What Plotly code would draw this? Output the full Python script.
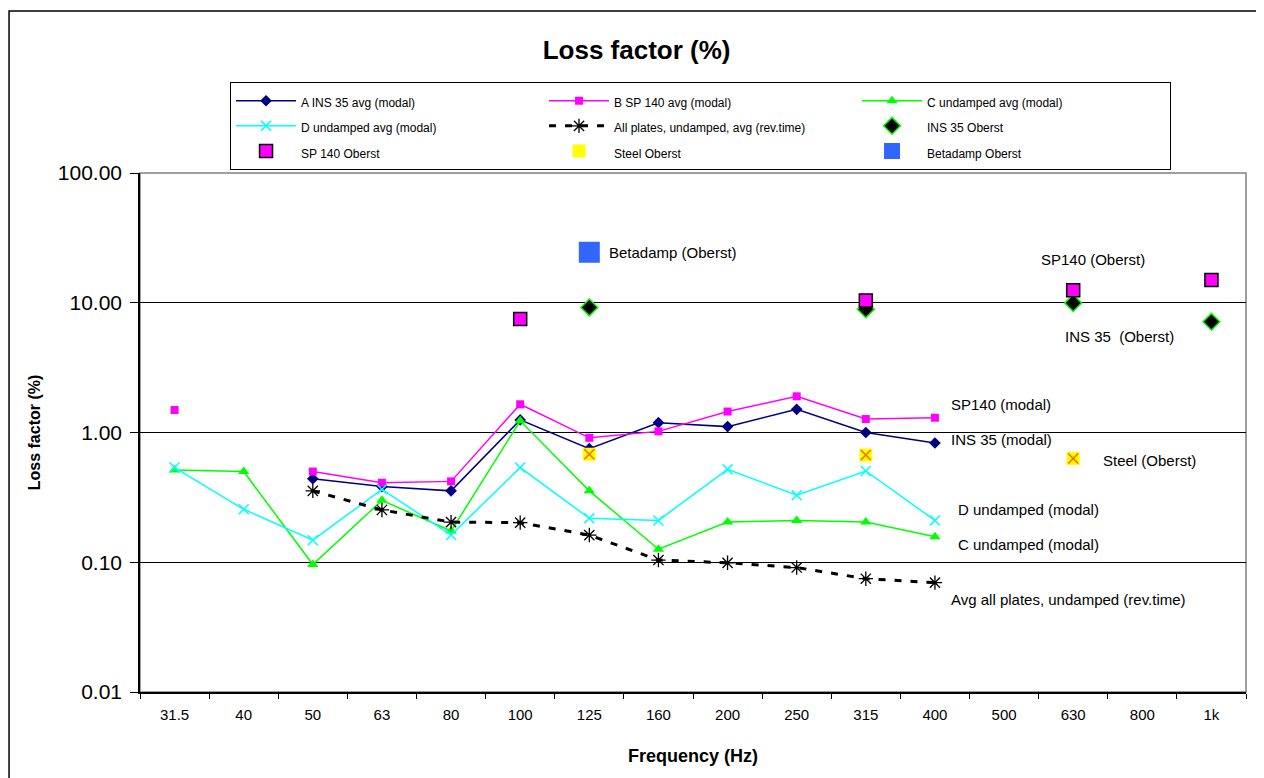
import math
import plotly.graph_objects as go

freqs = ["31.5", "40", "50", "63", "80", "100", "125", "160", "200", "250", "315", "400", "500", "630", "800", "1k"]

ins35_modal = [None, None, 0.44, 0.383, 0.355, 1.25, 0.75, 1.19, 1.11, 1.51, 1.00, 0.83, None, None, None, None]
sp140_modal = [1.49, None, 0.50, 0.41, 0.42, 1.65, 0.91, 1.02, 1.45, 1.90, 1.27, 1.30, None, None, None, None]
c_undamped = [0.515, 0.50, 0.096, 0.30, 0.174, 1.23, 0.355, 0.126, 0.204, 0.21, 0.204, 0.157, None, None, None, None]
d_undamped = [0.537, 0.256, 0.148, 0.365, 0.162, 0.537, 0.218, 0.21, 0.52, 0.328, 0.505, 0.21, None, None, None, None]
all_revtime = [None, None, 0.355, 0.253, 0.204, 0.202, 0.162, 0.104, 0.099, 0.091, 0.0747, 0.0696, None, None, None, None]
ins35_oberst = [None, None, None, None, None, None, 9.2, None, None, None, 8.9, None, None, 9.95, None, 7.13]
sp140_oberst = [None, None, None, None, None, 7.5, None, None, None, None, 10.4, None, None, 12.5, None, 15.0]
steel_oberst = [None, None, None, None, None, None, 0.68, None, None, None, 0.67, None, None, 0.63, None, None]
betadamp_oberst = [None, None, None, None, None, None, 24.5, None, None, None, None, None, None, None, None, None]

FONT = "Liberation Sans, Arial, sans-serif"


def lg(name):
    return "<span style='font-size:12px'>" + name + "</span>"


fig = go.Figure()

fig.add_trace(go.Scatter(x=freqs, y=ins35_modal, name=lg("A INS 35 avg (modal)"), mode="lines+markers",
                         line=dict(color="#000080", width=1.5),
                         marker=dict(symbol="diamond", size=9, color="#000080")))
fig.add_trace(go.Scatter(x=freqs, y=sp140_modal, name=lg("B SP 140 avg (modal)"), mode="lines+markers",
                         line=dict(color="#FF00FF", width=1.5),
                         marker=dict(symbol="square", size=8, color="#FF00FF")))
fig.add_trace(go.Scatter(x=freqs, y=c_undamped, name=lg("C undamped avg (modal)"), mode="lines+markers",
                         line=dict(color="#00FF00", width=1.5),
                         marker=dict(symbol="triangle-up", size=10, color="#00FF00")))
fig.add_trace(go.Scatter(x=freqs, y=d_undamped, name=lg("D undamped avg (modal)"), mode="lines+markers",
                         line=dict(color="#00FFFF", width=1.5),
                         marker=dict(symbol="x-thin-open", size=10, color="#00FFFF",
                                     line=dict(color="#00FFFF", width=1.5))))
fig.add_trace(go.Scatter(x=freqs, y=all_revtime, name=lg("All plates, undamped, avg (rev.time)"), mode="lines+markers",
                         line=dict(color="black", width=3, dash="7px,9px"),
                         marker=dict(symbol="asterisk-open", size=12, color="black",
                                     line=dict(color="black", width=1.3))))
fig.add_trace(go.Scatter(x=freqs, y=ins35_oberst, name=lg("INS 35 Oberst"), mode="markers",
                         marker=dict(symbol="diamond", size=13, color="black",
                                     line=dict(color="#00FF00", width=1.5))))
fig.add_trace(go.Scatter(x=freqs, y=sp140_oberst, name=lg("SP 140 Oberst"), mode="markers",
                         marker=dict(symbol="square", size=13, color="#FF00FF",
                                     line=dict(color="black", width=1.5))))
fig.add_trace(go.Scatter(x=freqs, y=steel_oberst, name=lg("Steel Oberst"), mode="markers",
                         legendgroup="steel",
                         marker=dict(symbol="square", size=13, color="#FFFF00")))
fig.add_trace(go.Scatter(x=freqs, y=steel_oberst, name="Steel Oberst", mode="markers",
                         legendgroup="steel", showlegend=False,
                         marker=dict(symbol="x-thin-open", size=10, color="#FF6600",
                                     line=dict(color="#FF6600", width=1.5))))
fig.add_trace(go.Scatter(x=freqs, y=betadamp_oberst, name=lg("Betadamp Oberst"), mode="markers",
                         marker=dict(symbol="square", size=21, color="#3366FF")))

annots = [
    ("Betadamp (Oberst)", 6.26, 24.6),
    ("SP140 (Oberst)", 12.5, 21.7),
    ("INS 35  (Oberst)", 12.85, 5.53),
    ("SP140 (modal)", 11.2, 1.65),
    ("INS 35 (modal)", 11.2, 0.888),
    ("Steel (Oberst)", 13.4, 0.611),
    ("D undamped (modal)", 11.3, 0.256),
    ("C undamped (modal)", 11.3, 0.137),
    ("Avg all plates, undamped (rev.time)", 11.2, 0.0517),
]
for text, xi, yv in annots:
    fig.add_annotation(x=xi, y=math.log10(yv), xref="x", yref="y", text=text, showarrow=False,
                       xanchor="left", yanchor="middle", font=dict(family=FONT, size=15, color="black"))

# plot-area border (gray) and outer chart border
fig.add_shape(type="rect", xref="paper", yref="paper", x0=0, x1=1, y0=0, y1=1,
              line=dict(color="#808080", width=1.5), layer="below")
fig.add_shape(type="rect", xref="paper", yref="paper", x0=-0.1184, x1=1.06, y0=-0.4, y1=1.312,
              line=dict(color="black", width=1.5))

fig.update_layout(
    width=1264, height=778,
    margin=dict(l=132, r=26, t=165, b=94),
    paper_bgcolor="white", plot_bgcolor="white",
    font=dict(family=FONT, color="black"),
    title=dict(text="<b>Loss factor (%)</b>", x=0.449, xref="paper", xanchor="center",
               y=1 - 42 / 778, yanchor="middle", font=dict(family=FONT, size=26, color="black")),
    showlegend=True,
    legend=dict(orientation="h", x=0.0814, y=1.175, xanchor="left", yanchor="top",
                bordercolor="black", borderwidth=1, bgcolor="white",
                font=dict(family=FONT, size=17, color="black"),
                itemwidth=60, entrywidth=238, entrywidthmode="pixels",
                traceorder="normal"),
    xaxis=dict(type="category", categoryorder="array", categoryarray=freqs,
               range=[-0.5, 15.5], showgrid=False, showline=True, linecolor="black", linewidth=1.5,
               ticks="outside", tickson="boundaries", ticklen=5, tickcolor="black",
               ticklabelstandoff=8,
               tickfont=dict(family=FONT, size=15, color="black"),
               title=dict(text="<b>Frequency (Hz)</b>", font=dict(family=FONT, size=18, color="black"),
                          standoff=28),
               zeroline=False),
    yaxis=dict(type="log", range=[-2, 2], tickvals=[0.01, 0.1, 1, 10, 100],
               ticktext=["0.01", "0.10", "1.00", "10.00", "100.00"],
               showgrid=True, gridcolor="black", gridwidth=1,
               showline=True, linecolor="black", linewidth=1.5,
               ticks="outside", ticklen=8, tickcolor="black",
               ticklabelstandoff=4,
               tickfont=dict(family=FONT, size=21, color="black"),
               title=dict(text="<b>Loss factor (%)</b>", font=dict(family=FONT, size=16, color="black"),
                          standoff=13),
               zeroline=False),
)

fig.write_html("out.html")
